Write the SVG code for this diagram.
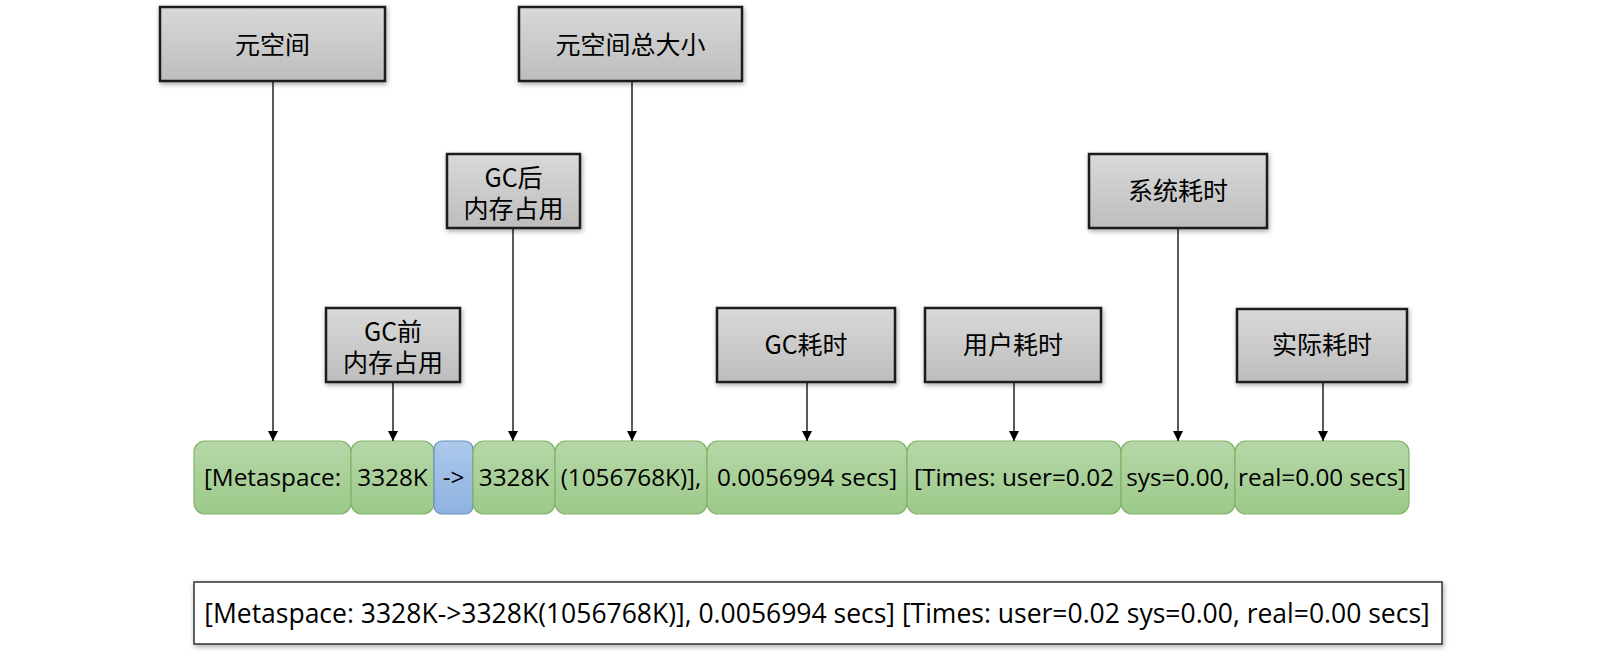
<svg xmlns="http://www.w3.org/2000/svg" width="1615" height="657" viewBox="0 0 1615 657">
<defs>
<linearGradient id="gGray" x1="0" y1="0" x2="0" y2="1"><stop offset="0" stop-color="#d9d9d9"/><stop offset="1" stop-color="#bdbdbd"/></linearGradient>
<linearGradient id="gGreen" x1="0" y1="0" x2="0" y2="1"><stop offset="0" stop-color="#b6d7a8"/><stop offset="1" stop-color="#9cc98a"/></linearGradient>
<linearGradient id="gBlue" x1="0" y1="0" x2="0" y2="1"><stop offset="0" stop-color="#adc8ec"/><stop offset="1" stop-color="#8eb2e0"/></linearGradient>
<filter id="sh" x="-10%" y="-20%" width="120%" height="140%"><feDropShadow dx="1" dy="2" stdDeviation="2.5" flood-color="#000" flood-opacity="0.35"/></filter>
<marker id="arr" viewBox="0 0 10 10" refX="10" refY="5" markerWidth="10" markerHeight="10" markerUnits="userSpaceOnUse" orient="auto"><path d="M0,0 L10,5 L0,10 Z" fill="#000"/></marker>
<style>
.lbl rect{fill:url(#gGray);stroke:#1a1a1a;stroke-width:2.5;filter:url(#sh)}
.grn rect{fill:url(#gGreen);stroke:#82b366;stroke-width:1.2}
.blu rect{fill:url(#gBlue);stroke:#6c8ebf;stroke-width:1.2}
text{font-family:"Open Sans","Noto Sans CJK SC",sans-serif;font-size:24.3px;fill:#000;text-anchor:middle}
.cn{font-family:"Noto Sans CJK SC",sans-serif;font-size:25px}
.full{font-size:26.5px}
#connectors line{stroke:#000;stroke-width:1.3;marker-end:url(#arr)}
</style>
</defs>
<rect width="1615" height="657" fill="#fff"/>

<g id="label-yuankongjian" class="lbl"><rect x="160" y="7" width="225" height="74"/><text x="272.5" y="54" class="cn">元空间</text></g>
<g id="label-total" class="lbl"><rect x="519" y="7" width="223" height="74"/><text x="630.5" y="54" class="cn">元空间总大小</text></g>
<g id="label-after" class="lbl"><rect x="447" y="154" width="133" height="74"/><text class="cn"><tspan x="513.5" y="187">GC后</tspan><tspan x="513.5" y="218">内存占用</tspan></text></g>
<g id="label-sys" class="lbl"><rect x="1089" y="154" width="178" height="74"/><text x="1178" y="200" class="cn">系统耗时</text></g>
<g id="label-before" class="lbl"><rect x="326" y="308" width="134" height="74"/><text class="cn"><tspan x="393" y="341">GC前</tspan><tspan x="393" y="372">内存占用</tspan></text></g>
<g id="label-gctime" class="lbl"><rect x="717" y="308" width="178" height="74"/><text x="806" y="354" class="cn">GC耗时</text></g>
<g id="label-user" class="lbl"><rect x="925" y="308" width="176" height="74"/><text x="1013" y="354" class="cn">用户耗时</text></g>
<g id="label-real" class="lbl"><rect x="1237" y="309" width="170" height="73"/><text x="1322" y="354" class="cn">实际耗时</text></g>

<g id="seg-metaspace" class="grn"><rect x="194" y="441" width="157" height="73" rx="11"/><text x="272.5" y="486">[Metaspace:</text></g>
<g id="seg-before" class="grn"><rect x="351" y="441" width="83" height="73" rx="11"/><text x="392.5" y="486">3328K</text></g>
<g id="seg-arrow" class="blu"><rect x="434" y="441" width="39" height="73" rx="8"/><text x="453.5" y="486">-&gt;</text></g>
<g id="seg-after" class="grn"><rect x="473" y="441" width="82" height="73" rx="11"/><text x="514" y="486">3328K</text></g>
<g id="seg-total" class="grn"><rect x="555" y="441" width="152" height="73" rx="11"/><text x="631" y="486">(1056768K)],</text></g>
<g id="seg-gctime" class="grn"><rect x="707" y="441" width="200" height="73" rx="11"/><text x="807" y="486">0.0056994 secs]</text></g>
<g id="seg-user" class="grn"><rect x="907" y="441" width="214" height="73" rx="11"/><text x="1014" y="486">[Times: user=0.02</text></g>
<g id="seg-sys" class="grn"><rect x="1121" y="441" width="114" height="73" rx="11"/><text x="1178" y="486">sys=0.00,</text></g>
<g id="seg-real" class="grn"><rect x="1235" y="441" width="174" height="73" rx="11"/><text x="1322" y="486">real=0.00 secs]</text></g>

<g id="full-line"><rect x="194" y="582" width="1248" height="62" fill="#fff" stroke="#333" stroke-width="1.5" filter="url(#sh)"/><text x="817" y="623" class="full">[Metaspace: 3328K-&gt;3328K(1056768K)], 0.0056994 secs] [Times: user=0.02 sys=0.00, real=0.00 secs]</text></g>

<g id="connectors">
<line x1="273" y1="82" x2="273" y2="441"/>
<line x1="393" y1="383" x2="393" y2="441"/>
<line x1="513" y1="229" x2="513" y2="441"/>
<line x1="632" y1="82" x2="632" y2="441"/>
<line x1="807" y1="383" x2="807" y2="441"/>
<line x1="1014" y1="383" x2="1014" y2="441"/>
<line x1="1178" y1="229" x2="1178" y2="441"/>
<line x1="1323" y1="383" x2="1323" y2="441"/>
</g>
</svg>
